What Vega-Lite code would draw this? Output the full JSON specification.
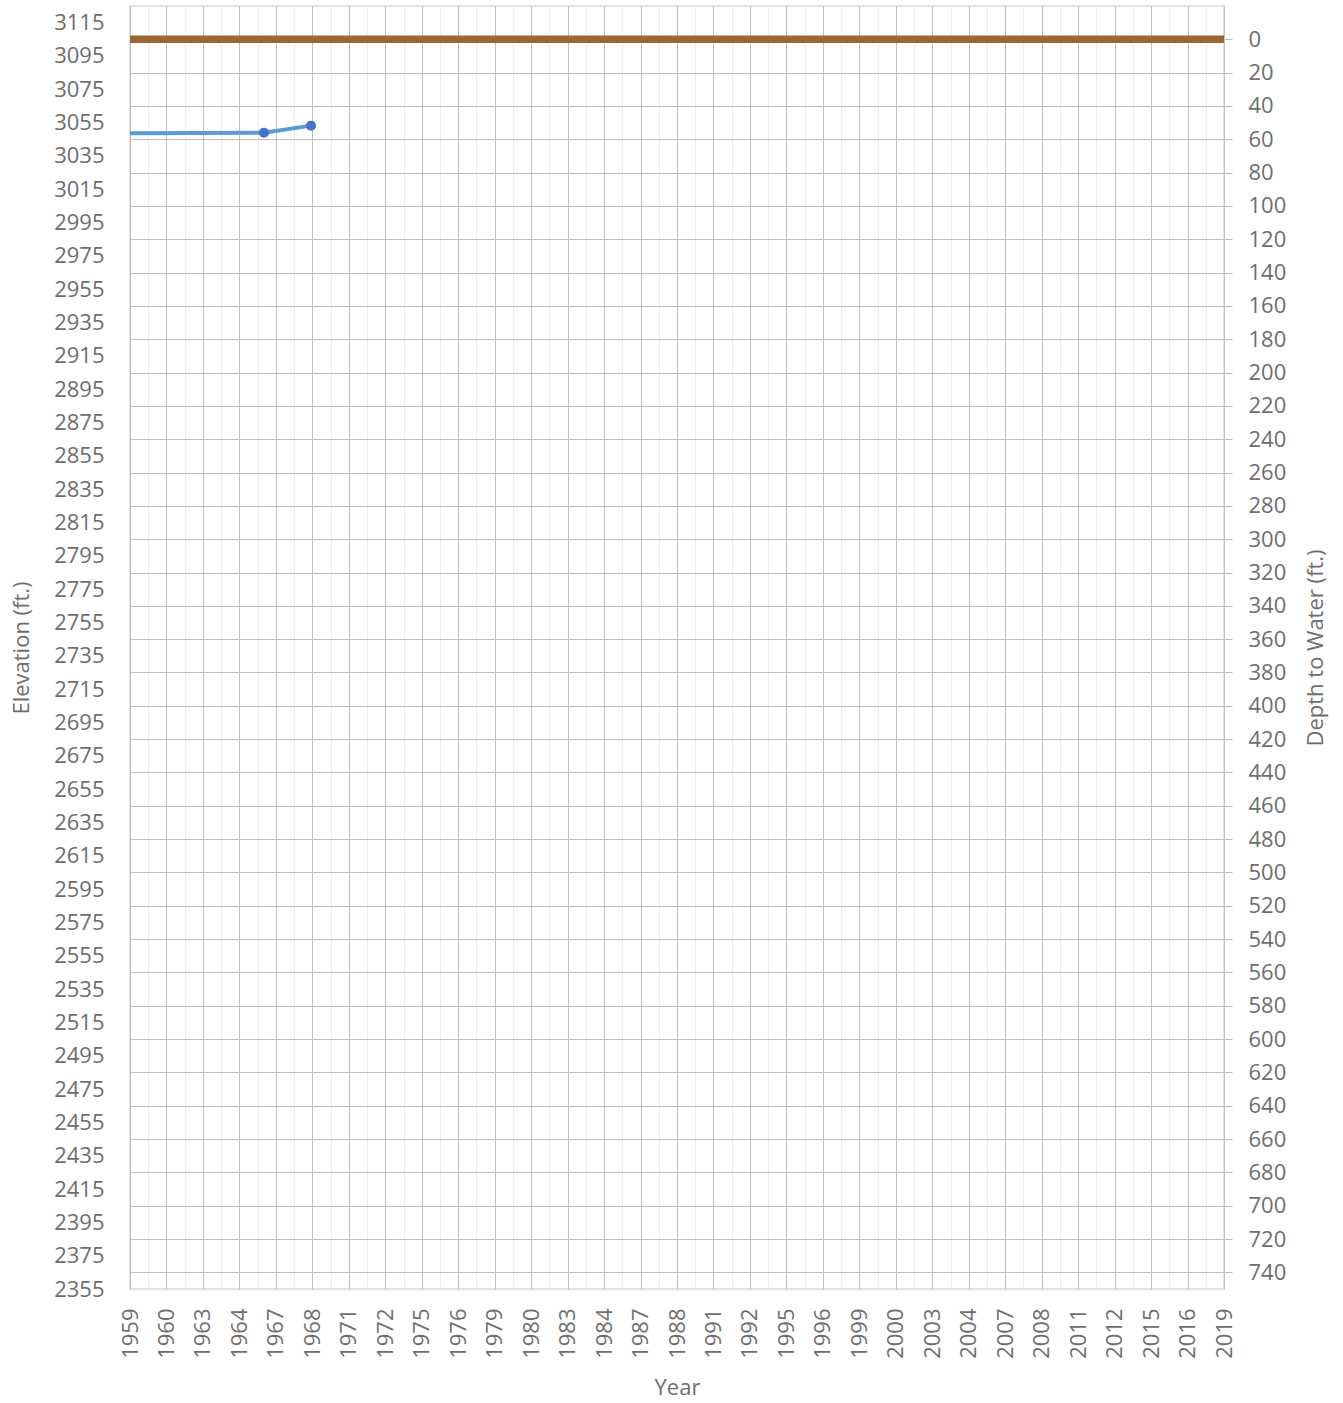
{
  "$schema": "https://vega.github.io/schema/vega-lite/v6.json",
  "width": 1094,
  "height": 1283,
  "autosize": {"type": "none"},
  "padding": {"left": 130, "top": 6, "right": 119, "bottom": 114},
  "background": "white",
  "config": {
    "font": "Open Sans",
    "view": {"stroke": "#d9d9d9", "strokeWidth": 1.5},
    "axis": {
      "labelFont": "Open Sans",
      "titleFont": "Open Sans",
      "labelFontSize": 22,
      "titleFontSize": 22,
      "labelColor": "#6e6e6e",
      "titleColor": "#6e6e6e",
      "titleFontWeight": "normal",
      "domain": false,
      "labelOverlap": false,
      "labelFlush": false
    }
  },
  "datasets": {
    "water": [
      {"date": "1955-01-01", "elevation": 3048.4},
      {"date": "1966-05-08", "elevation": 3049.0},
      {"date": "1968-12-05", "elevation": 3053.2}
    ],
    "land": [
      {"date": "1959-01-01", "depth": 0},
      {"date": "2019-01-01", "depth": 0}
    ]
  },
  "layer": [
    {
      "data": {"name": "water"},
      "encoding": {
        "x": {
          "field": "date",
          "type": "temporal",
          "scale": {"type": "utc", "domain": [-347155200000, 1546300800000], "nice": false},
          "axis": {
            "orient": "bottom",
            "values": [-347155200000, -284040000000, -220924800000, -157809600000, -94694400000, -31579200000, 31536000000, 94651200000, 157766400000, 220881600000, 283996800000, 347112000000, 410227200000, 473342400000, 536457600000, 599572800000, 662688000000, 725803200000, 788918400000, 852033600000, 915148800000, 978264000000, 1041379200000, 1104494400000, 1167609600000, 1230724800000, 1293840000000, 1356955200000, 1420070400000, 1483185600000, 1546300800000],
            "labelExpr": "utcFormat(datum.value, '%Y')",
            "labelAngle": 270,
            "labelAlign": "right",
            "labelBaseline": "middle",
            "labelPadding": 19,
            "ticks": false,
            "tickSize": 0,
            "grid": true,
            "gridColor": "#bfbfbf",
            "gridWidth": 1,
            "title": "Year",
            "titlePadding": 19,
            "zindex": 0
          }
        },
        "y": {
          "field": "elevation",
          "type": "quantitative",
          "scale": {"domain": [2355, 3125], "nice": false, "zero": false},
          "axis": {
            "orient": "left",
            "values": [2355, 2375, 2395, 2415, 2435, 2455, 2475, 2495, 2515, 2535, 2555, 2575, 2595, 2615, 2635, 2655, 2675, 2695, 2715, 2735, 2755, 2775, 2795, 2815, 2835, 2855, 2875, 2895, 2915, 2935, 2955, 2975, 2995, 3015, 3035, 3055, 3075, 3095, 3115],
            "format": "d",
            "grid": false,
            "ticks": false,
            "tickSize": 0,
            "labelPadding": 26,
            "title": "Elevation (ft.)",
            "titlePadding": 20,
            "zindex": 0
          }
        }
      },
      "layer": [
        {"mark": {"type": "line", "color": "#5b9bd5", "strokeWidth": 4, "clip": true}},
        {"mark": {"type": "point", "filled": true, "size": 100, "color": "#4472c4", "opacity": 1, "clip": true}}
      ]
    },
    {
      "data": {"name": "land"},
      "mark": {"type": "line", "color": "#9c6633", "strokeWidth": 7.5},
      "encoding": {
        "x": {
          "field": "date",
          "type": "temporal",
          "scale": {"type": "utc", "domain": [-347155200000, 1546300800000], "nice": false},
          "axis": {
            "orient": "top",
            "values": [-315597600000, -252482400000, -189367200000, -126252000000, -63136800000, -21600000, 63093600000, 126208800000, 189324000000, 252439200000, 315554400000, 378669600000, 441784800000, 504900000000, 568015200000, 631130400000, 694245600000, 757360800000, 820476000000, 883591200000, 946706400000, 1009821600000, 1072936800000, 1136052000000, 1199167200000, 1262282400000, 1325397600000, 1388512800000, 1451628000000, 1514743200000],
            "grid": true,
            "gridColor": "#ececec",
            "gridWidth": 1,
            "labels": false,
            "ticks": false,
            "domain": false,
            "title": null,
            "zindex": 0
          }
        },
        "y": {
          "field": "depth",
          "type": "quantitative",
          "scale": {"domain": [-20, 750], "reverse": true, "nice": false, "zero": false},
          "axis": {
            "orient": "right",
            "values": [0, 20, 40, 60, 80, 100, 120, 140, 160, 180, 200, 220, 240, 260, 280, 300, 320, 340, 360, 380, 400, 420, 440, 460, 480, 500, 520, 540, 560, 580, 600, 620, 640, 660, 680, 700, 720, 740],
            "format": "d",
            "grid": true,
            "gridColor": "#bfbfbf",
            "gridWidth": 1,
            "ticks": true,
            "tickSize": 8,
            "tickColor": "#bfbfbf",
            "labelPadding": 16,
            "title": "Depth to Water (ft.)",
            "titleAngle": 270,
            "titleBaseline": "top",
            "titlePadding": 20,
            "zindex": 0
          }
        }
      }
    }
  ],
  "resolve": {
    "scale": {"y": "independent"},
    "axis": {"x": "independent", "y": "independent"}
  }
}
